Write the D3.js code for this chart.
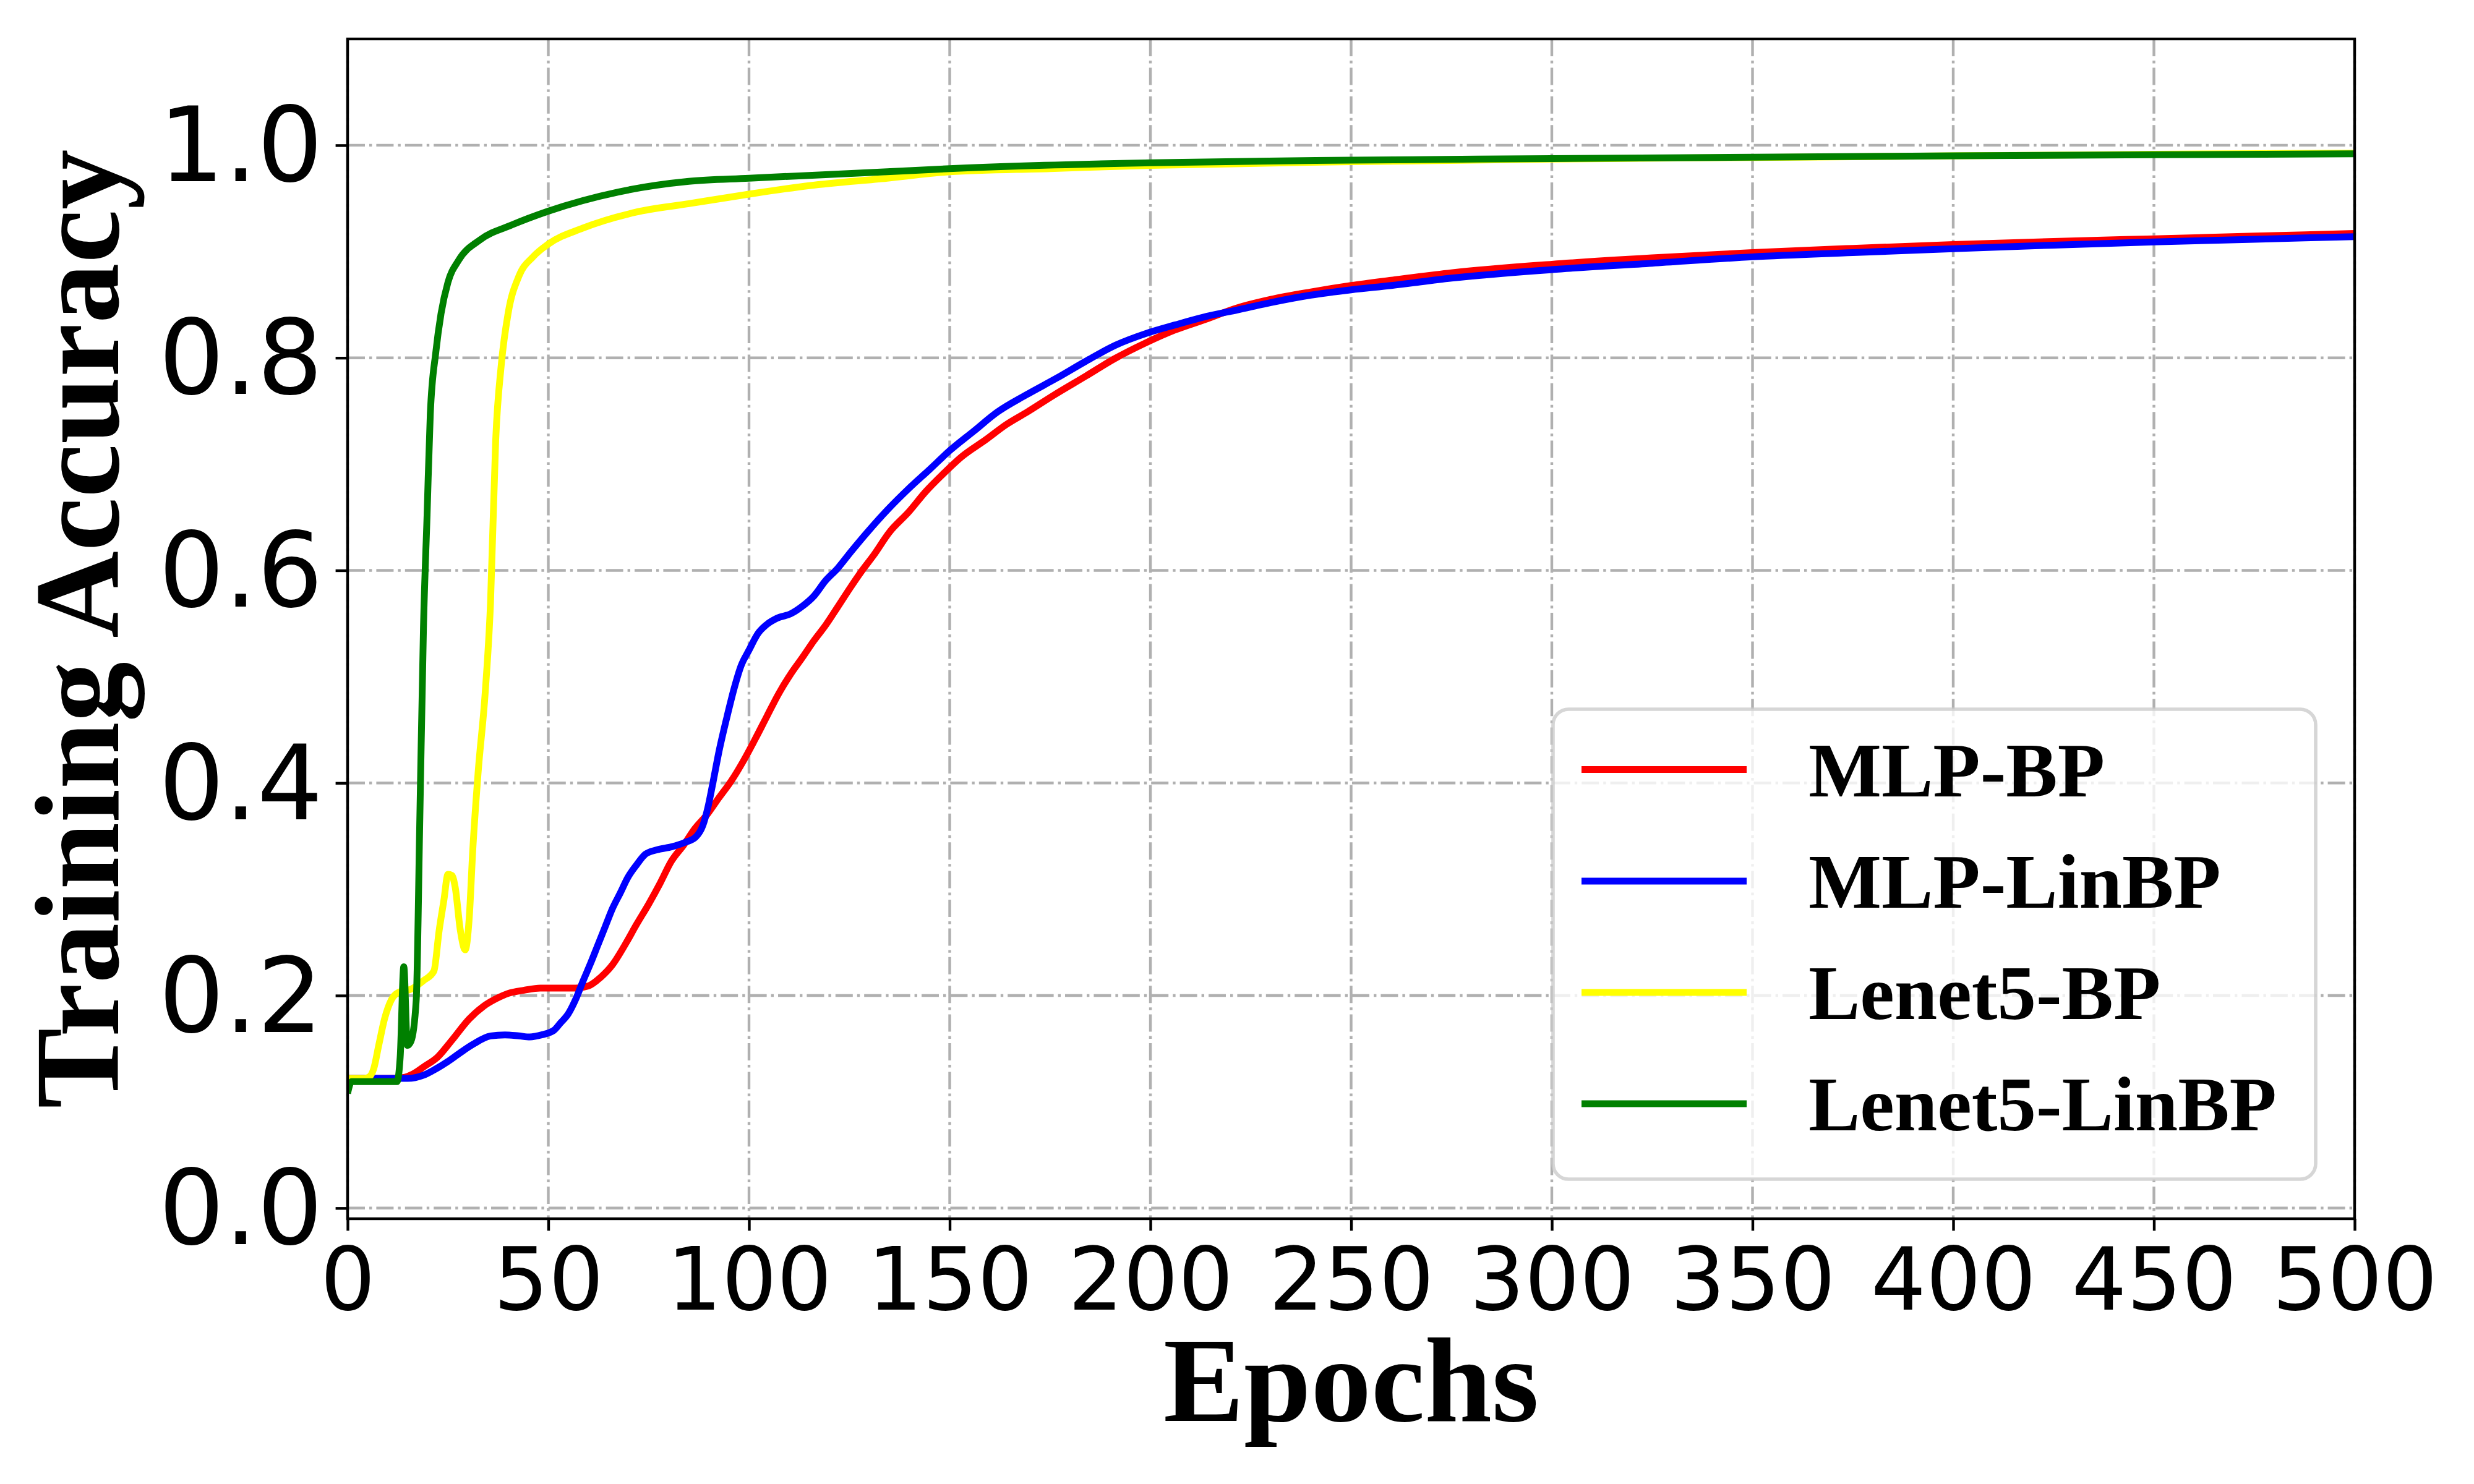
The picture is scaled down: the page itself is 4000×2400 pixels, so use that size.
<!DOCTYPE html>
<html>
<head>
<meta charset="utf-8">
<script src="https://cdn.jsdelivr.net/npm/d3@7/dist/d3.min.js"></script>
<style>
  html, body { margin: 0; padding: 0; background: #ffffff; }
  svg { display: block; }
</style>
</head>
<body>
<svg id="chart" width="4000" height="2400"></svg>
<script>
// ---------------- DATA ----------------
const seriesNames = ["MLP-BP", "MLP-LinBP", "Lenet5-BP", "Lenet5-LinBP"];
const seriesColors = ["#ff0000", "#0000ff", "#ffff00", "#008000"];

const xTicks = [0, 50, 100, 150, 200, 250, 300, 350, 400, 450, 500];
const yTicks = [0.0, 0.2, 0.4, 0.6, 0.8, 1.0];

// [epoch, training accuracy]
const mlpBP = [
  [0,0.122],[5,0.122],[10,0.122],[14,0.123],[16.2,0.126],[19,0.133],[22.4,0.142],[26,0.158],
  [30.3,0.178],[33.9,0.19],[37,0.197],[40,0.202],[44,0.205],[48,0.207],[52,0.207],[56.8,0.207],
  [60,0.209],[63,0.217],[66,0.229],[69,0.247],[72,0.267],[75,0.286],[77.9,0.306],[80.6,0.326],
  [83.8,0.342],[86.5,0.357],[89.7,0.371],[92.5,0.386],[95.6,0.402],[98.5,0.42],[101.5,0.441],
  [104.5,0.463],[107.4,0.484],[110.3,0.502],[113.3,0.518],[116.2,0.534],[119.2,0.549],[122,0.565],
  [125.1,0.583],[128,0.599],[131,0.614],[135,0.636],[139.8,0.655],[144,0.674],[148.7,0.692],
  [153,0.707],[159,0.723],[164,0.737],[169.3,0.749],[176,0.765],[184,0.783],[191,0.799],
  [198.8,0.814],[206,0.826],[213.6,0.836],[221.6,0.847],[230,0.855],[240,0.862],[250,0.868],
  [260,0.873],[275,0.880],[300,0.888],[325,0.894],[350,0.899],[375,0.903],[400,0.9066],
  [425,0.9095],[450,0.912],[475,0.9145],[500,0.917]
];

const mlpLinBP = [
  [0,0.122],[10,0.122],[15,0.122],[18.9,0.125],[22,0.131],[25,0.138],[28,0.146],[31.2,0.154],
  [35.6,0.162],[39.2,0.163],[42.7,0.162],[45.4,0.161],[47.1,0.162],[51.3,0.167],[53,0.174],
  [55,0.183],[57,0.198],[58.7,0.214],[60.5,0.23],[62.4,0.248],[64.2,0.265],[66,0.282],[68,0.297],
  [69.8,0.311],[72,0.323],[74.2,0.333],[77,0.337],[80.8,0.340],[84,0.344],[86.7,0.349],[88.5,0.36],
  [89.7,0.376],[91,0.40],[92.6,0.431],[94.5,0.462],[96.3,0.489],[98,0.510],[100,0.525],
  [102.3,0.541],[104.4,0.549],[107,0.555],[110.3,0.559],[113.2,0.566],[116.2,0.576],[119,0.590],
  [122.1,0.602],[125.5,0.618],[129.5,0.636],[134.5,0.657],[139.8,0.677],[145,0.695],[150.1,0.713],
  [156,0.731],[161.9,0.749],[169,0.765],[176.7,0.781],[184,0.797],[191.4,0.812],[199,0.823],
  [206.2,0.831],[214,0.839],[221.6,0.845],[230,0.852],[240,0.859],[250,0.864],[260,0.868],
  [275,0.875],[300,0.883],[325,0.889],[350,0.895],[375,0.899],[400,0.9027],[425,0.906],
  [450,0.909],[475,0.9115],[500,0.914]
];

const lenetBP = [
  [0,0.122],[4,0.122],[5.2,0.123],[6.5,0.131],[7.8,0.154],[9.2,0.178],[10.9,0.196],[12.7,0.203],
  [15.8,0.206],[18.9,0.214],[21.5,0.223],[22.8,0.261],[24,0.29],[25,0.314],[26,0.313],[26.8,0.302],
  [28.1,0.261],[29.3,0.243],[30.3,0.273],[31.2,0.338],[32.5,0.409],[34.3,0.486],[35.6,0.569],
  [36.9,0.723],[38.3,0.794],[40,0.842],[42.7,0.877],[46.2,0.895],[50,0.907],[58.6,0.922],
  [71.8,0.937],[85,0.945],[100,0.954],[115,0.962],[134.4,0.969],[150,0.975],[175,0.978],
  [200,0.981],[250,0.9845],[300,0.987],[350,0.9885],[400,0.990],[450,0.9915],[500,0.9925]
];

const lenetLinBP = [
  [0,0.108],[1,0.119],[12.3,0.119],[13.1,0.142],[14,0.227],[14.9,0.153],[15.8,0.157],[17.1,0.196],
  [18,0.368],[18.9,0.546],[19.8,0.652],[20.6,0.747],[22,0.806],[23.3,0.842],[25,0.871],[27.7,0.892],
  [33,0.911],[40.9,0.925],[50,0.938],[67.4,0.956],[85,0.966],[100,0.969],[134.4,0.975],[150,0.978],
  [200,0.9835],[250,0.986],[300,0.9874],[350,0.9888],[400,0.990],[450,0.991],[500,0.9919]
];

const seriesData = [mlpBP, mlpLinBP, lenetBP, lenetLinBP];

// ---------------- LAYOUT ----------------
const plot = { left: 562, right: 3807, top: 63, bottom: 1971 };
const svg = d3.select("#chart");

const x = d3.scaleLinear().domain([0, 500]).range([plot.left, plot.right]);
const y = d3.scaleLinear().domain([-0.01, 1.1]).range([plot.bottom, plot.top]);

const gridColor = "#b0b0b0";
const gridDash = "28,7,4.4,7";

// clip
svg.append("defs").append("clipPath").attr("id", "plotclip")
  .append("rect").attr("x", plot.left).attr("y", plot.top)
  .attr("width", plot.right - plot.left).attr("height", plot.bottom - plot.top);

// grid
const grid = svg.append("g");
grid.selectAll("line.gx").data(xTicks).enter().append("line")
  .attr("x1", d => x(d)).attr("x2", d => x(d))
  .attr("y1", plot.top).attr("y2", plot.bottom)
  .attr("stroke", gridColor).attr("stroke-width", 4.4).attr("stroke-dasharray", gridDash);
grid.selectAll("line.gy").data(yTicks).enter().append("line")
  .attr("x1", plot.left).attr("x2", plot.right)
  .attr("y1", d => y(d)).attr("y2", d => y(d))
  .attr("stroke", gridColor).attr("stroke-width", 4.4).attr("stroke-dasharray", gridDash);

// lines
const line = d3.line().x(d => x(d[0])).y(d => y(d[1])).curve(d3.curveMonotoneX);
const lines = svg.append("g").attr("clip-path", "url(#plotclip)");
seriesData.forEach((s, i) => {
  lines.append("path").datum(s)
    .attr("d", line)
    .attr("fill", "none")
    .attr("stroke", seriesColors[i])
    .attr("stroke-width", 11)
    .attr("stroke-linejoin", "round")
    .attr("stroke-linecap", "butt");
});

// axes
const xAxis = d3.axisBottom(x).tickValues(xTicks).tickFormat(d3.format("d"))
  .tickSize(19.4).tickPadding(19.4);
const gx = svg.append("g").attr("transform", `translate(0,${plot.bottom})`).call(xAxis);
gx.select(".domain").remove();
gx.selectAll(".tick line").attr("stroke", "#000").attr("stroke-width", 4.4);
gx.selectAll(".tick text")
  .attr("font-family", "'DejaVu Sans', sans-serif")
  .attr("font-size", 140).attr("fill", "#000")
  .attr("dy", null).attr("y", 147);

const yAxis = d3.axisLeft(y).tickValues(yTicks).tickFormat(d3.format(".1f"))
  .tickSize(19.4).tickPadding(19.4);
const gy = svg.append("g").attr("transform", `translate(${plot.left},0)`).call(yAxis);
gy.select(".domain").remove();
gy.selectAll(".tick line").attr("stroke", "#000").attr("stroke-width", 4.4);
gy.selectAll(".tick text")
  .attr("font-family", "'DejaVu Sans', sans-serif")
  .attr("font-size", 167).attr("fill", "#000")
  .attr("dy", null).attr("dominant-baseline", "central").attr("x", -40);

// frame (spines)
svg.append("rect")
  .attr("x", plot.left).attr("y", plot.top)
  .attr("width", plot.right - plot.left).attr("height", plot.bottom - plot.top)
  .attr("fill", "none").attr("stroke", "#000").attr("stroke-width", 4.4);

// axis labels
svg.append("text")
  .attr("x", (plot.left + plot.right) / 2).attr("y", 2298)
  .attr("text-anchor", "middle")
  .attr("font-family", "'Liberation Serif', 'Times New Roman', serif")
  .attr("font-weight", "bold").attr("font-size", 195)
  .text("Epochs");

svg.append("text")
  .attr("transform", `translate(191,${(plot.top + plot.bottom) / 2}) rotate(-90)`)
  .attr("text-anchor", "middle")
  .attr("font-family", "'Liberation Serif', 'Times New Roman', serif")
  .attr("font-weight", "bold").attr("font-size", 195)
  .text("Training Accuracy");

// legend
const leg = { x: 2511, y: 1147, w: 1233, h: 760 };
const lg = svg.append("g");
lg.append("rect")
  .attr("x", leg.x).attr("y", leg.y).attr("width", leg.w).attr("height", leg.h)
  .attr("rx", 25).attr("ry", 25)
  .attr("fill", "#ffffff").attr("fill-opacity", 0.8)
  .attr("stroke", "#cccccc").attr("stroke-opacity", 0.8).attr("stroke-width", 5.6);
const rowY = [1244.5, 1425, 1605, 1785];
seriesNames.forEach((name, i) => {
  lg.append("line")
    .attr("x1", 2557).attr("x2", 2824)
    .attr("y1", rowY[i]).attr("y2", rowY[i])
    .attr("stroke", seriesColors[i]).attr("stroke-width", 11);
  lg.append("text")
    .attr("x", 2924).attr("y", rowY[i] + 43)
    .attr("font-family", "'Liberation Serif', 'Times New Roman', serif")
    .attr("font-weight", "bold").attr("font-size", 125)
    .attr("fill", "#000")
    .text(name);
});
</script>
</body>
</html>
